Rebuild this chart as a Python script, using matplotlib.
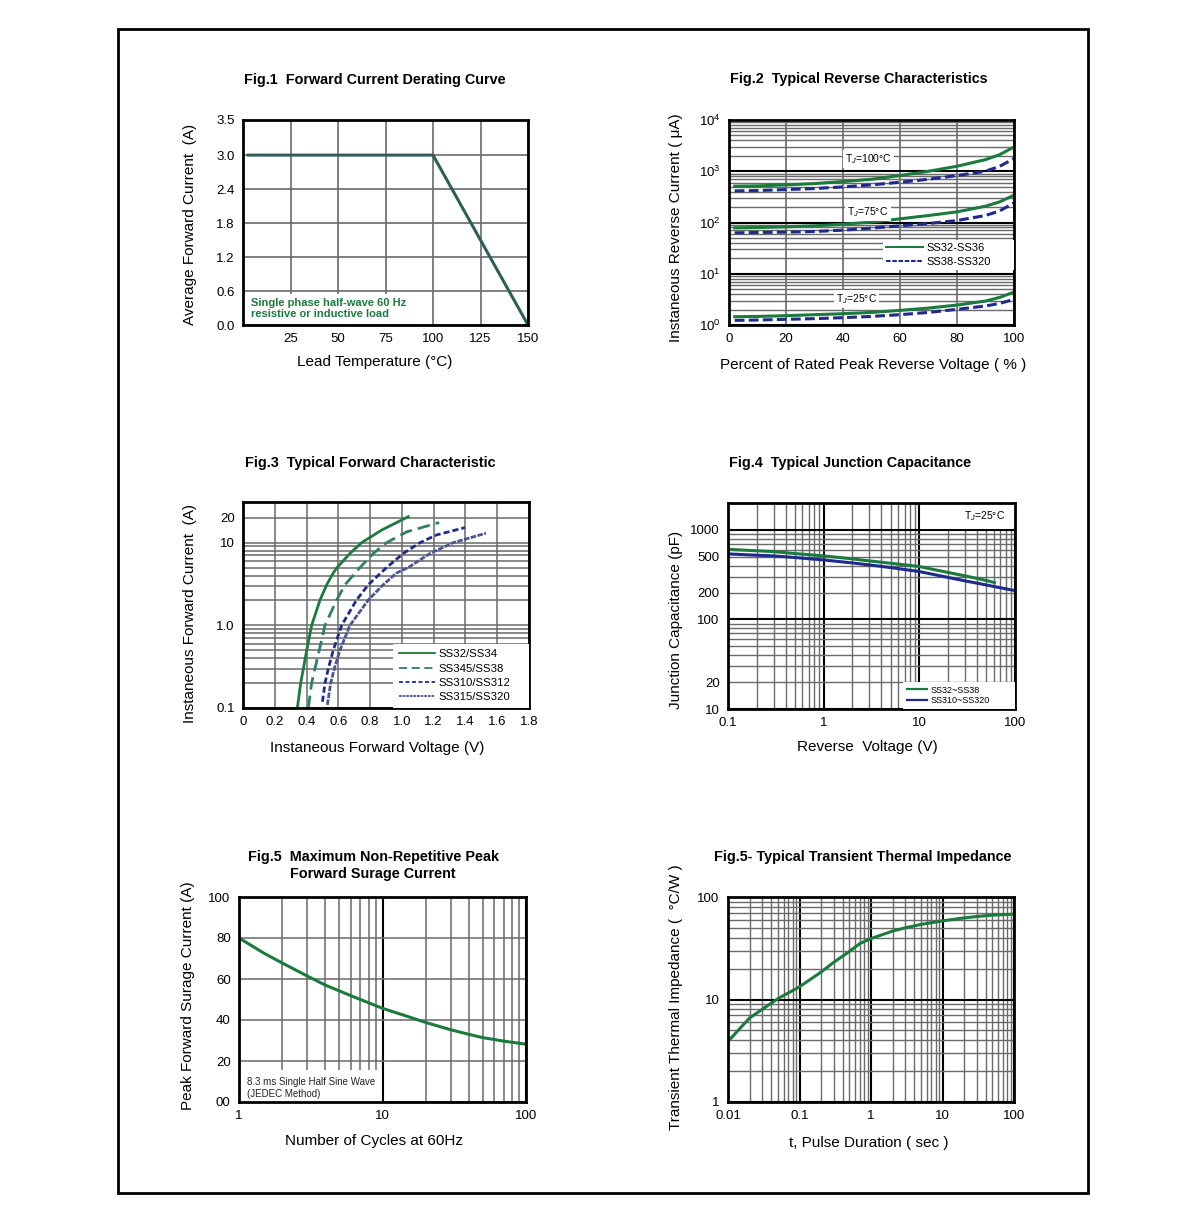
import math
import matplotlib
matplotlib.use('Agg')
import matplotlib.pyplot as plt
from matplotlib.patches import Rectangle
from matplotlib.ticker import FixedLocator, FuncFormatter, NullFormatter

plt.rcParams.update({
    'font.family': ['Liberation Sans', 'DejaVu Sans'],
    'font.size': 9.5,
    'mathtext.fontset': 'custom',
    'mathtext.rm': 'Liberation Sans',
    'mathtext.it': 'Liberation Sans:italic',
})

W, H = 1200, 1226
GREEN = '#1b7a3e'
NAVY = '#1e2b8c'
TEAL = '#2e7f68'
SLATE = '#4a5592'
DARKTEAL = '#2f5e59'
GRID = '#6a6a6a'

# Fig.1 derating
fig1_temp = [2, 100, 150]
fig1_current = [3.0, 3.0, 0.0]

# Fig.2 reverse characteristics (percent of VRRM, uA)
fig2_pct = [2, 10, 20, 30, 40, 50, 60, 70, 80, 90, 95, 100]
fig2_100_a = [511, 518, 542, 575, 630, 698, 824, 1000, 1251, 1687, 2112, 2978]
fig2_100_b = [414, 420, 439, 460, 495, 542, 611, 698, 824, 1000, 1251, 1765]
fig2_75_a = [78.7, 79.9, 82.3, 86.1, 92.8, 101.5, 117.9, 136.9, 161.3, 208, 253, 341]
fig2_75_b = [62.9, 63.9, 64.8, 66.8, 70.9, 77.6, 86.1, 95.6, 109.4, 136.9, 168.7, 241]
fig2_25_a = [1.45, 1.47, 1.52, 1.59, 1.66, 1.76, 1.93, 2.14, 2.45, 2.93, 3.46, 4.39]
fig2_25_b = [1.23, 1.25, 1.29, 1.33, 1.39, 1.47, 1.59, 1.76, 2.02, 2.35, 2.64, 3.16]

# Fig.3 forward characteristic (V, A)
fig3_v_ss34 = [0.342, 0.363, 0.380, 0.401, 0.432, 0.485, 0.527, 0.568, 0.592, 0.673, 0.747, 0.873, 1.04]
fig3_i_ss34 = [0.1, 0.2, 0.3, 0.5, 1.0, 2.03, 3.1, 4.3, 5.0, 7.4, 10, 14.2, 20.6]
fig3_v_ss38 = [0.411, 0.432, 0.453, 0.48, 0.516, 0.59, 0.642, 0.736, 0.82, 0.904, 1.03, 1.235]
fig3_i_ss38 = [0.1, 0.2, 0.3, 0.5, 1.0, 2.03, 3.1, 5, 7.4, 10, 13.5, 17.5]
fig3_v_ss312 = [0.50, 0.516, 0.537, 0.568, 0.621, 0.715, 0.789, 0.904, 1.009, 1.114, 1.219, 1.397]
fig3_i_ss312 = [0.119, 0.2, 0.3, 0.5, 1.0, 2.03, 3.1, 5, 7.4, 10, 12.4, 15.2]
fig3_v_ss320 = [0.531, 0.552, 0.575, 0.61, 0.673, 0.789, 0.883, 0.967, 1.04, 1.177, 1.324, 1.529]
fig3_i_ss320 = [0.109, 0.2, 0.3, 0.5, 1.0, 2.03, 3.1, 4.3, 5, 7.4, 10, 13.0]
fig3_labels = ['SS32/SS34', 'SS345/SS38', 'SS310/SS312', 'SS315/SS320']

# Fig.4 junction capacitance (V, pF)
fig4_v_a = [0.1, 0.2, 0.3, 0.5, 1, 2, 3, 5, 10, 20, 30, 45, 61]
fig4_c_a = [608, 585, 573, 545, 513, 475, 451, 425, 390, 335, 307, 280, 259]
fig4_v_b = [0.1, 0.2, 0.3, 0.5, 1, 2, 3, 5, 10, 20, 30, 50, 100]
fig4_c_b = [540, 522, 513, 492, 462, 428, 407, 380, 343, 295, 270, 243, 210]

# Fig.5 surge current
fig5_cycles = [1, 1.5, 2, 3, 4, 5, 6, 8, 10, 15, 20, 30, 40, 50, 70, 100]
fig5_current = [80, 72.5, 67.8, 61.4, 57, 54.2, 51.9, 48.4, 45.7, 41.7, 38.8, 35.2, 33, 31.4, 29.7, 28.2]

# Fig.6 transient thermal impedance
fig6_t = [0.01, 0.02, 0.05, 0.1, 0.2, 0.3, 0.5, 0.7, 1, 2, 3, 5, 10, 20, 30, 50, 100]
fig6_z = [3.9, 6.6, 10.2, 13.3, 18.5, 23, 29.5, 35.2, 39.3, 46.5, 50, 54, 58.5, 62.5, 64.5, 66.5, 68]


fig = plt.figure(figsize=(W / 100, H / 100), dpi=100)


def px_axes(l, t, r, b):
    return fig.add_axes([l / W, 1 - b / H, (r - l) / W, (b - t) / H])


def ftext(x, y, s, **kw):
    fig.text(x / W, 1 - y / H, s, **kw)


def style(ax):
    for s in ax.spines.values():
        s.set_linewidth(2.0)
        s.set_color('black')
        s.set_zorder(5)
    ax.tick_params(which='both', length=0, labelsize=9.5, pad=6)


def log_grid(ax, axis):
    ax.grid(True, axis=axis, which='major', color='black', lw=1.5)
    ax.grid(True, axis=axis, which='minor', color=GRID, lw=1.0)


def decade_minors(lo, hi):
    return [m * 10.0 ** d for d in range(lo, hi) for m in range(2, 10)]


TITLE = dict(fontsize=10.4, fontweight='bold', ha='center', va='center')
LABEL = dict(fontsize=11, ha='center', va='center')
LEG = dict(frameon=True, fancybox=False, framealpha=1, facecolor='white',
           edgecolor='none', mode='expand', loc='lower left', borderaxespad=0)

# outer frame
fig.add_artist(Rectangle((118 / W, 1 - 1193 / H), 970 / W, 1164 / H,
                         transform=fig.transFigure, fill=False, lw=2, color='black'))

# ---------------- Fig.1
ax1 = px_axes(243, 120, 528, 325)
style(ax1)
ax1.plot(fig1_temp, fig1_current, color=DARKTEAL, lw=2.2, solid_capstyle='butt')
ax1.set_xlim(0, 150)
ax1.set_ylim(0, 3.62)
ax1.set_xticks([25, 50, 75, 100, 125, 150])
ax1.yaxis.set_major_locator(FixedLocator([0.0, 0.6, 1.2, 1.8, 2.4, 3.0, 3.62]))
ax1.set_yticklabels(['0.0', '0.6', '1.2', '1.8', '2.4', '3.0', '3.5'])
ax1.grid(True, color=GRID, lw=1.2)
ax1.text(4, 0.29, 'Single phase half-wave 60 Hz\nresistive or inductive load',
         color=GREEN, fontsize=8, fontweight='bold', va='center', ha='left',
         linespacing=1.2,
         bbox=dict(facecolor='white', edgecolor='none', pad=3))
ftext(375, 80, 'Fig.1  Forward Current Derating Curve', **TITLE)
ftext(375, 362, 'Lead Temperature (°C)', **LABEL)
ftext(190, 224, 'Average Forward Current  (A)', rotation=90, **LABEL)

# ---------------- Fig.2
ax2 = px_axes(729, 120, 1014, 325)
style(ax2)
ax2.set_yscale('log')
ax2.set_xlim(0, 100)
ax2.set_ylim(1, 1e4)
ax2.set_xticks([0, 20, 40, 60, 80, 100])
ax2.yaxis.set_major_locator(FixedLocator([1, 10, 100, 1000, 10000]))
ax2.yaxis.set_minor_locator(FixedLocator(decade_minors(0, 4)))
ax2.yaxis.set_minor_formatter(NullFormatter())
ax2.yaxis.set_major_formatter(FuncFormatter(
    lambda v, p: r'$\mathregular{10^{%d}}$' % round(math.log10(v))))
log_grid(ax2, 'y')
ax2.grid(True, axis='x', color=GRID, lw=1.2)
dash2 = (3.2, 1.4)
ax2.plot(fig2_pct, fig2_100_a, color=GREEN, lw=2.2)
ax2.plot(fig2_pct, fig2_100_b, color=NAVY, lw=2.2, dashes=dash2)
ax2.plot(fig2_pct, fig2_75_a, color=GREEN, lw=2.2)
ax2.plot(fig2_pct, fig2_75_b, color=NAVY, lw=2.2, dashes=dash2)
ax2.plot(fig2_pct, fig2_25_a, color=GREEN, lw=2.2)
ax2.plot(fig2_pct, fig2_25_b, color=NAVY, lw=2.2, dashes=dash2)
TJBOX = dict(facecolor='white', edgecolor='none', pad=1.5)
ax2.text(48.8, 1733, r'T$_J$=100°C', fontsize=7.5, ha='center', va='center', bbox=TJBOX)
ax2.text(48.8, 157, r'T$_J$=75°C', fontsize=7.5, ha='center', va='center', bbox=TJBOX)
ax2.text(44.8, 3.18, r'T$_J$=25°C', fontsize=7.5, ha='center', va='center', bbox=TJBOX)
h_a, = ax2.plot([], [], color=GREEN, lw=1.5)
h_b, = ax2.plot([], [], color=NAVY, lw=1.5, dashes=(2.2, 0.8))
ax2.legend([h_a, h_b], ['SS32-SS36', 'SS38-SS320'], bbox_to_anchor=(0.54, 0.268, 0.46, 0.16),
           fontsize=8, handlelength=3.3, handletextpad=0.3, labelspacing=0.35,
           borderpad=0.3, **LEG)
ftext(859, 79, 'Fig.2  Typical Reverse Characteristics', **TITLE)
ftext(873, 365, 'Percent of Rated Peak Reverse Voltage ( % )', **LABEL)
ftext(676, 228, 'Instaneous Reverse Current ( μA)', rotation=90, **LABEL)

# ---------------- Fig.3
ax3 = px_axes(243, 502, 529, 708)
style(ax3)
ax3.set_yscale('log')
ax3.set_xlim(0, 1.8)
ax3.set_ylim(0.1, 31)
ax3.set_xticks([0, 0.2, 0.4, 0.6, 0.8, 1.0, 1.2, 1.4, 1.6, 1.8])
ax3.xaxis.set_major_formatter(FuncFormatter(lambda v, p: '0' if v == 0 else '%.1f' % v))
ax3.yaxis.set_major_locator(FixedLocator([0.1, 1.0, 10, 20]))
ax3.yaxis.set_major_formatter(FuncFormatter(
    lambda v, p: {0.1: '0.1', 1.0: '1.0', 10: '10', 20: '20'}.get(round(v, 1), '')))
ax3.yaxis.set_minor_locator(FixedLocator(decade_minors(-1, 1)))
ax3.yaxis.set_minor_formatter(NullFormatter())
ax3.grid(True, which='both', color=GRID, lw=1.1)
ax3.plot(fig3_v_ss34, fig3_i_ss34, color=GREEN, lw=2.0)
ax3.plot(fig3_v_ss38, fig3_i_ss38, color=TEAL, lw=2.0, dashes=(4.5, 2.2))
ax3.plot(fig3_v_ss312, fig3_i_ss312, color=NAVY, lw=2.0, dashes=(2.2, 1.1))
ax3.plot(fig3_v_ss320, fig3_i_ss320, color=SLATE, lw=2.0, dashes=(2.0, 0.5))
hh = [ax3.plot([], [], color=GREEN, lw=1.3)[0],
      ax3.plot([], [], color=TEAL, lw=1.3, dashes=(4.5, 2.5))[0],
      ax3.plot([], [], color=NAVY, lw=1.3, dashes=(2.2, 1.4))[0],
      ax3.plot([], [], color=SLATE, lw=1.3, dashes=(1.5, 0.5))[0]]
ax3.legend(hh, fig3_labels, bbox_to_anchor=(0.524, 0.0, 0.476, 0.33),
           fontsize=8.2, handlelength=3.2, handletextpad=0.3, labelspacing=0.38,
           borderpad=0.5, **LEG)
ftext(370, 463, 'Fig.3  Typical Forward Characteristic', **TITLE)
ftext(377, 748, 'Instaneous Forward Voltage (V)', **LABEL)
ftext(190, 614, 'Instaneous Forward Current  (A)', rotation=90, **LABEL)

# ---------------- Fig.4
ax4 = px_axes(728, 503, 1015, 709)
style(ax4)
ax4.set_xscale('log')
ax4.set_yscale('log')
ax4.set_xlim(0.1, 100)
ax4.set_ylim(10, 2000)
ax4.xaxis.set_major_locator(FixedLocator([0.1, 1, 10, 100]))
ax4.xaxis.set_major_formatter(FuncFormatter(lambda v, p: '%g' % v))
ax4.xaxis.set_minor_locator(FixedLocator(decade_minors(-1, 2)))
ax4.xaxis.set_minor_formatter(NullFormatter())
ax4.yaxis.set_major_locator(FixedLocator([10, 100, 1000]))
ax4.yaxis.set_major_formatter(FuncFormatter(lambda v, p: '%g' % v))
ax4.yaxis.set_minor_locator(FixedLocator(decade_minors(1, 3)))
ax4.yaxis.set_minor_formatter(FuncFormatter(lambda v, p: '%g' % v if round(v) in (20, 200, 500) else ''))
log_grid(ax4, 'both')
ax4.add_patch(Rectangle((0.672, 0.872), 0.328, 0.128, transform=ax4.transAxes,
                        facecolor='white', edgecolor='none', zorder=1.6))
ax4.plot(fig4_v_a, fig4_c_a, color=GREEN, lw=2.2)
ax4.plot(fig4_v_b, fig4_c_b, color=NAVY, lw=2.2)
ax4.text(0.895, 0.935, r'T$_J$=25°C', transform=ax4.transAxes, fontsize=7.5,
         ha='center', va='center')
hh4 = [ax4.plot([], [], color=GREEN, lw=1.6)[0], ax4.plot([], [], color=NAVY, lw=1.6)[0]]
ax4.legend(hh4, ['SS32~SS38', 'SS310~SS320'], bbox_to_anchor=(0.61, 0.0, 0.39, 0.14),
           fontsize=6.5, handlelength=2.2, handletextpad=0.4, labelspacing=0.15,
           borderpad=0.45, **LEG)
ftext(850, 463, 'Fig.4  Typical Junction Capacitance', **TITLE)
ftext(867, 747, 'Reverse  Voltage (V)', **LABEL)
ftext(676, 620, 'Junction Capacitance (pF)', rotation=90, **LABEL)

# ---------------- Fig.5
ax5 = px_axes(239, 897, 526, 1102)
style(ax5)
ax5.set_xscale('log')
ax5.set_xlim(1, 100)
ax5.set_ylim(0, 100)
ax5.xaxis.set_major_locator(FixedLocator([1, 10, 100]))
ax5.xaxis.set_major_formatter(FuncFormatter(lambda v, p: '%g' % v))
ax5.xaxis.set_minor_locator(FixedLocator(decade_minors(0, 2)))
ax5.xaxis.set_minor_formatter(NullFormatter())
ax5.set_yticks([0, 20, 40, 60, 80, 100])
ax5.set_yticklabels(['00', '20', '40', '60', '80', '100'])
ax5.grid(True, axis='x', which='major', color='black', lw=1.5)
ax5.grid(True, axis='x', which='minor', color=GRID, lw=1.1)
ax5.grid(True, axis='y', color=GRID, lw=1.1)
ax5.plot(fig5_cycles, fig5_current, color=GREEN, lw=2.2)
ax5.text(1.13, 7.0, '8.3 ms Single Half Sine Wave\n(JEDEC Method)', fontsize=7,
         color='#222222', ha='left', va='center', linespacing=1.25,
         bbox=dict(facecolor='white', edgecolor='none', pad=4.5))
ftext(373, 857, 'Fig.5  Maximum Non-Repetitive Peak', **TITLE)
ftext(373, 874, 'Forward Surage Current', **TITLE)
ftext(374, 1141, 'Number of Cycles at 60Hz', **LABEL)
ftext(188, 996, 'Peak Forward Surage Current (A)', rotation=90, **LABEL)

# ---------------- Fig.6
ax6 = px_axes(728, 897, 1014, 1102)
style(ax6)
ax6.set_xscale('log')
ax6.set_yscale('log')
ax6.set_xlim(0.01, 100)
ax6.set_ylim(1, 100)
ax6.xaxis.set_major_locator(FixedLocator([0.01, 0.1, 1, 10, 100]))
ax6.xaxis.set_major_formatter(FuncFormatter(lambda v, p: '%g' % v))
ax6.xaxis.set_minor_locator(FixedLocator(decade_minors(-2, 2)))
ax6.xaxis.set_minor_formatter(NullFormatter())
ax6.yaxis.set_major_locator(FixedLocator([1, 10, 100]))
ax6.yaxis.set_major_formatter(FuncFormatter(lambda v, p: '%g' % v))
ax6.yaxis.set_minor_locator(FixedLocator(decade_minors(0, 2)))
ax6.yaxis.set_minor_formatter(NullFormatter())
log_grid(ax6, 'both')
ax6.plot(fig6_t, fig6_z, color=GREEN, lw=2.2)
ftext(863, 857, 'Fig.5- Typical Transient Thermal Impedance', **TITLE)
ftext(869, 1143, 't, Pulse Duration ( sec )', **LABEL)
ftext(676, 997, 'Transient Thermal Impedance (  °C/W )', rotation=90, **LABEL)

fig.savefig('out.png', dpi=100, facecolor='white')
